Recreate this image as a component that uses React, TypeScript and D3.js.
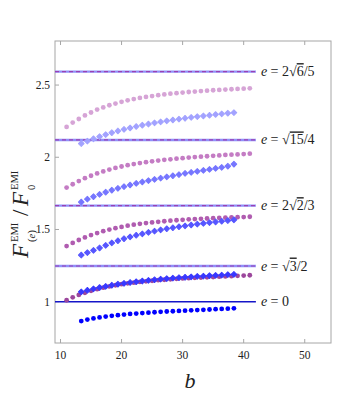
import React, { useRef, useEffect } from "react";
import * as d3 from "d3";

// b values for the two families of points
const bCircles = [11, 12, 13, 14, 15, 16, 17, 18, 19, 20, 21, 22, 23, 24, 25, 26, 27, 28, 29, 30, 31, 32, 33, 34, 35, 36, 37, 38, 39, 40, 41];
const bDiamonds = [13.4, 14.4, 15.4, 16.4, 17.4, 18.4, 19.4, 20.4, 21.4, 22.4, 23.4, 24.4, 25.4, 26.4, 27.4, 28.4, 29.4, 30.4, 31.4, 32.4, 33.4, 34.4, 35.4, 36.4, 37.4, 38.4];

// e = 0
const circlesE0 = [0.866, 0.876, 0.884, 0.891, 0.897, 0.902, 0.907, 0.911, 0.915, 0.918, 0.921, 0.924, 0.927, 0.93, 0.932, 0.934, 0.936, 0.938, 0.94, 0.942, 0.944, 0.946, 0.948, 0.95, 0.952, 0.954];
// e = sqrt3/2
const circlesE1 = [1.01, 1.03, 1.047, 1.062, 1.075, 1.087, 1.097, 1.106, 1.114, 1.121, 1.127, 1.132, 1.137, 1.141, 1.145, 1.149, 1.152, 1.155, 1.158, 1.161, 1.163, 1.165, 1.167, 1.169, 1.171, 1.173, 1.175, 1.177, 1.179, 1.181, 1.183];
const diamondsE1 = [1.068, 1.079, 1.089, 1.098, 1.106, 1.114, 1.121, 1.127, 1.133, 1.138, 1.143, 1.148, 1.152, 1.156, 1.16, 1.163, 1.166, 1.169, 1.172, 1.175, 1.177, 1.18, 1.182, 1.184, 1.187, 1.189];
// e = 2sqrt2/3
const circlesE2 = [1.385, 1.407, 1.427, 1.445, 1.461, 1.475, 1.488, 1.499, 1.509, 1.518, 1.526, 1.533, 1.539, 1.544, 1.549, 1.553, 1.557, 1.561, 1.564, 1.567, 1.57, 1.572, 1.574, 1.576, 1.578, 1.58, 1.582, 1.583, 1.585, 1.586, 1.588];
const diamondsE2 = [1.323, 1.34, 1.355, 1.372, 1.39, 1.407, 1.422, 1.436, 1.449, 1.46, 1.47, 1.48, 1.489, 1.497, 1.505, 1.512, 1.519, 1.525, 1.531, 1.537, 1.542, 1.547, 1.552, 1.557, 1.562, 1.567];
// e = sqrt15/4
const circlesE3 = [1.79, 1.813, 1.835, 1.855, 1.872, 1.888, 1.902, 1.915, 1.926, 1.936, 1.945, 1.953, 1.96, 1.966, 1.972, 1.977, 1.982, 1.986, 1.99, 1.994, 1.998, 2.001, 2.004, 2.007, 2.01, 2.013, 2.016, 2.018, 2.02, 2.022, 2.025];
const diamondsE3 = [1.69, 1.71, 1.727, 1.743, 1.758, 1.772, 1.785, 1.797, 1.808, 1.819, 1.829, 1.838, 1.847, 1.856, 1.864, 1.872, 1.88, 1.888, 1.895, 1.902, 1.909, 1.916, 1.923, 1.93, 1.938, 1.952];
// e = 2sqrt6/5
const circlesE4 = [2.21, 2.24, 2.265, 2.29, 2.31, 2.33, 2.345, 2.36, 2.372, 2.384, 2.394, 2.403, 2.411, 2.418, 2.424, 2.43, 2.435, 2.44, 2.444, 2.448, 2.452, 2.455, 2.458, 2.461, 2.464, 2.466, 2.469, 2.471, 2.473, 2.475, 2.477];
const diamondsE4 = [2.095, 2.112, 2.128, 2.143, 2.157, 2.17, 2.182, 2.193, 2.203, 2.213, 2.222, 2.23, 2.238, 2.245, 2.252, 2.258, 2.264, 2.27, 2.276, 2.281, 2.286, 2.291, 2.296, 2.3, 2.305, 2.309];

// reference levels and their labels
const levels = [1, 1.247, 1.665, 2.12, 2.593];
const levelLabels = [
  { pre: "0", rad: "", post: "" },
  { pre: "", rad: "3", post: "/2" },
  { pre: "2", rad: "2", post: "/3" },
  { pre: "", rad: "15", post: "/4" },
  { pre: "2", rad: "6", post: "/5" },
];
const levelEnd = 42;

const xTicks = [10, 20, 30, 40, 50];
const yTicks = [1, 1.5, 2, 2.5];

const series = [
  { b: bDiamonds, v: circlesE0, shape: "circle", color: "#0000ff" },
  { b: bCircles, v: circlesE1, shape: "circle", color: "#9c479c" },
  { b: bDiamonds, v: diamondsE1, shape: "diamond", color: "#3838ff" },
  { b: bCircles, v: circlesE2, shape: "circle", color: "#b05cb0" },
  { b: bDiamonds, v: diamondsE2, shape: "diamond", color: "#5656ff" },
  { b: bCircles, v: circlesE3, shape: "circle", color: "#c47cc4" },
  { b: bDiamonds, v: diamondsE3, shape: "diamond", color: "#7676ff" },
  { b: bCircles, v: circlesE4, shape: "circle", color: "#d6a4d6" },
  { b: bDiamonds, v: diamondsE4, shape: "diamond", color: "#a2a2ff" },
];

const serif = "Liberation Serif, DejaVu Serif, serif";

const App = () => {
  const ref = useRef(null);

  useEffect(() => {
    const svg = d3.select(ref.current);
    svg.selectAll("*").remove();

    const left = 55, right = 331, top = 41, bottom = 343;
    const x = d3.scaleLinear().domain([9.1, 54.3]).range([left, right]);
    const y = d3.scaleLinear().domain([0.714, 2.805]).range([bottom, top]);
    const frameColor = "#a6a6a6";

    // frame
    svg.append("rect")
      .attr("x", left).attr("y", top)
      .attr("width", right - left).attr("height", bottom - top)
      .attr("fill", "none").attr("stroke", frameColor).attr("stroke-width", 1);

    // x ticks bottom + top
    xTicks.forEach((t) => {
      svg.append("line").attr("x1", x(t)).attr("x2", x(t)).attr("y1", bottom).attr("y2", bottom - 4)
        .attr("stroke", frameColor);
      svg.append("line").attr("x1", x(t)).attr("x2", x(t)).attr("y1", top).attr("y2", top + 4)
        .attr("stroke", frameColor);
      svg.append("text").attr("x", x(t)).attr("y", bottom + 16)
        .attr("text-anchor", "middle").attr("font-family", serif).attr("font-size", 11.5)
        .attr("fill", "#222").text(t);
    });
    yTicks.forEach((t) => {
      svg.append("line").attr("x1", left).attr("x2", left + 4).attr("y1", y(t)).attr("y2", y(t))
        .attr("stroke", frameColor);
      svg.append("text").attr("x", left - 5).attr("y", y(t) + 4)
        .attr("text-anchor", "end").attr("font-family", serif).attr("font-size", 11.5)
        .attr("fill", "#222").text(t);
    });

    // reference lines
    levels.forEach((lv, i) => {
      if (i === 0) {
        svg.append("line").attr("x1", x(9.1)).attr("x2", x(levelEnd)).attr("y1", y(lv)).attr("y2", y(lv))
          .attr("stroke", "#1515c8").attr("stroke-width", 1.4);
      } else {
        svg.append("line").attr("x1", x(9.1)).attr("x2", x(levelEnd)).attr("y1", y(lv)).attr("y2", y(lv))
          .attr("stroke", "#9090f8").attr("stroke-width", 2.4);
        svg.append("line").attr("x1", x(9.1)).attr("x2", x(levelEnd)).attr("y1", y(lv)).attr("y2", y(lv))
          .attr("stroke", "#9a40b4").attr("stroke-width", 1.2).attr("stroke-dasharray", "4,3");
      }
      const lab = levelLabels[i];
      const txt = svg.append("text").attr("x", x(levelEnd) + 5).attr("y", y(lv) + 4.5)
        .attr("font-family", serif).attr("font-size", 14).attr("fill", "#222");
      txt.append("tspan").attr("font-style", "italic").text("e");
      txt.append("tspan").text(" = " + lab.pre);
      if (lab.rad) {
        txt.append("tspan").text("√");
        txt.append("tspan").style("text-decoration", "overline").text(lab.rad);
      }
      txt.append("tspan").text(lab.post);
    });

    // points
    const diamond = d3.symbol().type(d3.symbolSquare).size(16);
    series.forEach((s) => {
      const pts = s.b.map((b, i) => ({ b, v: s.v[i] }));
      if (s.shape === "circle") {
        svg.append("g").selectAll("circle").data(pts).join("circle")
          .attr("cx", (d) => x(d.b)).attr("cy", (d) => y(d.v)).attr("r", 2.4)
          .attr("fill", s.color);
      } else {
        svg.append("g").selectAll("path").data(pts).join("path")
          .attr("d", diamond)
          .attr("transform", (d) => `translate(${x(d.b)},${y(d.v)}) rotate(45)`)
          .attr("fill", s.color).attr("stroke", s.color).attr("stroke-width", 1).attr("stroke-linejoin", "round");
      }
    });

    // axis labels
    svg.append("text").attr("x", 190).attr("y", 388).attr("text-anchor", "middle")
      .attr("font-family", serif).attr("font-style", "italic").attr("font-size", 22)
      .attr("fill", "#222").text("b");

    const yl = svg.append("g").attr("transform", "translate(28,198) rotate(-90)")
      .attr("font-family", serif).attr("fill", "#222");
    const parts = [
      { t: "F", x: -60, dy: 0, size: 23, italic: true },
      { t: "EMI", x: -44, dy: -10, size: 10.5 },
      { t: "(", x: -44, dy: 7, size: 10.5 },
      { t: "e", x: -40.5, dy: 7, size: 10.5, italic: true },
      { t: ")", x: -35.5, dy: 7, size: 10.5 },
      { t: "/", x: -18, dy: 0, size: 23 },
      { t: "F", x: -8, dy: 0, size: 23, italic: true },
      { t: "EMI", x: 8, dy: -10, size: 10.5 },
      { t: "0", x: 8, dy: 7, size: 10.5 },
    ];
    parts.forEach((p) => {
      yl.append("text").attr("x", p.x).attr("y", p.dy).attr("font-size", p.size)
        .attr("font-style", p.italic ? "italic" : "normal").text(p.t);
    });
  }, []);

  return (
    <svg
      ref={ref}
      width={350}
      height={394}
      style={{ position: "absolute", left: 0, top: 0, background: "#fff" }}
    ></svg>
  );
};

export default App;
